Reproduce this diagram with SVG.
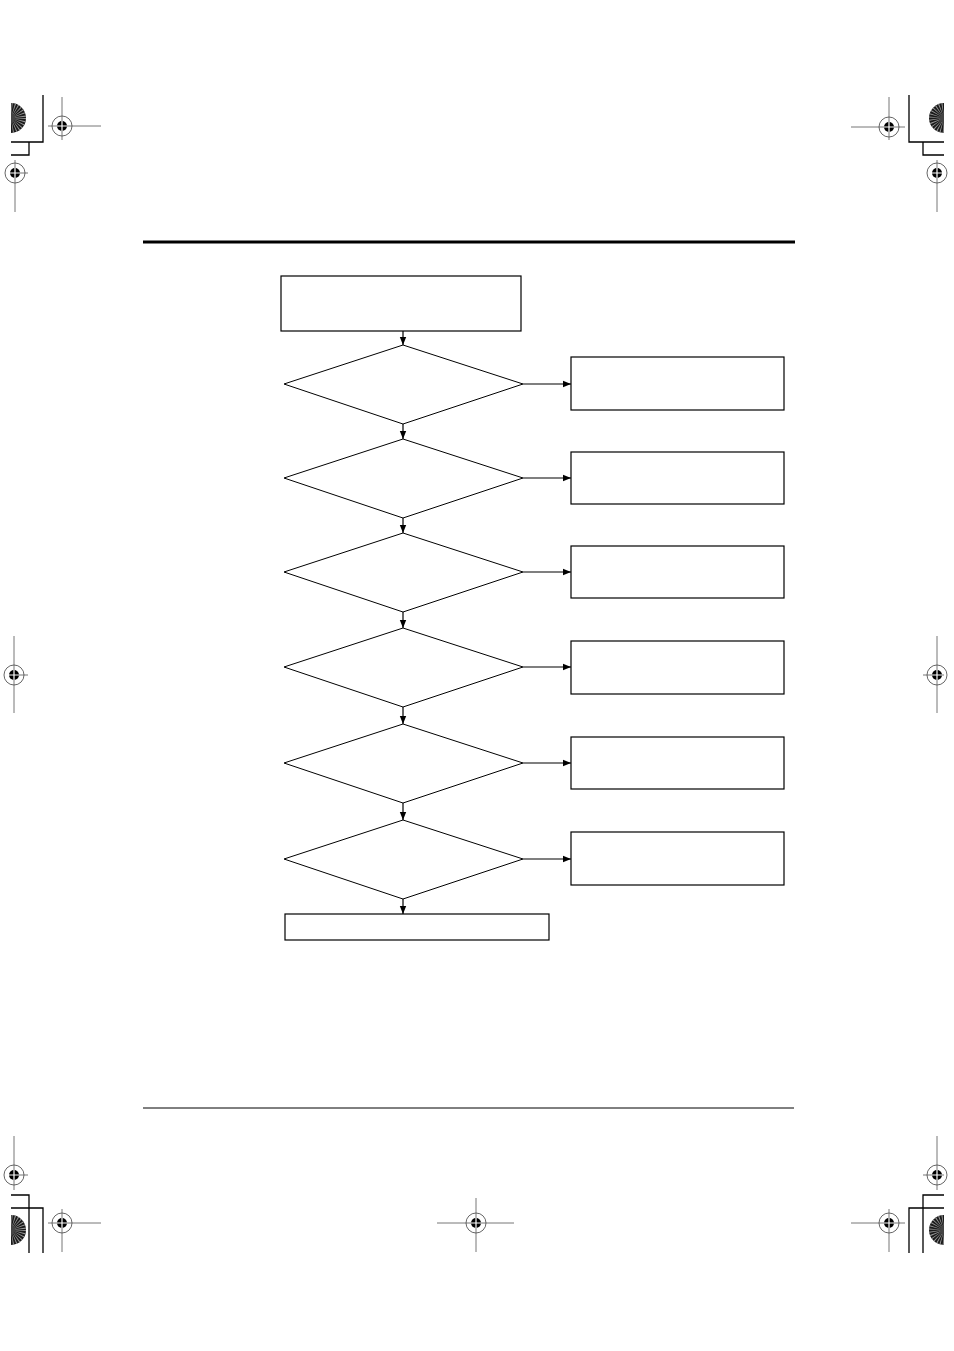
<svg xmlns="http://www.w3.org/2000/svg" width="954" height="1351" viewBox="0 0 954 1351">
<style>
.box{fill:#fff;stroke:#000;stroke-width:1.2}
.dia{fill:#fff;stroke:#000;stroke-width:1}
.con{stroke:#000;stroke-width:1.2;fill:none}
.crop{stroke:#000;stroke-width:1.3;fill:none}
.reg{stroke:#777;stroke-width:1;fill:none}
</style>
<defs>
<marker id="ah" viewBox="0 0 10 10" refX="10" refY="5" markerWidth="8" markerHeight="8" markerUnits="userSpaceOnUse" orient="auto">
<path d="M0,1 L10,5 L0,9 Z" fill="#000"/>
</marker>
<g id="tgt">
<circle r="10" fill="none" stroke="#555" stroke-width="0.9"/>
<circle r="5" fill="#000"/>
<path d="M-5,0 H5 M0,-5 V5" stroke="#fff" stroke-width="1.2"/>
</g>
<g id="sun">
<circle r="15" fill="#1a1a1a"/>
<circle r="8" fill="none" stroke="#999" stroke-width="14" stroke-dasharray="0.6 1.2"/>
<circle r="4" fill="#444"/>
</g>
<clipPath id="clipL"><rect x="11" y="0" width="30" height="1351"/></clipPath>
<clipPath id="clipR"><rect x="913" y="0" width="31" height="1351"/></clipPath>
</defs>

<!-- page furniture -->
<g id="page">
<line x1="143" y1="242" x2="795" y2="242" stroke="#000" stroke-width="3"/>
<line x1="143" y1="1108" x2="794" y2="1108" stroke="#000" stroke-width="1"/>
</g>

<!-- registration / crop marks -->
<g id="marks">
<g clip-path="url(#clipL)"><use href="#sun" x="11" y="118"/><use href="#sun" x="11" y="1230"/></g>
<g clip-path="url(#clipR)"><use href="#sun" x="944" y="118"/><use href="#sun" x="944" y="1230"/></g>
<path class="crop" d="M43,95 V142 H11 M29,142 V155 H11"/>
<path class="crop" d="M909,95 V142 H944 M923,142 V155 H944"/>
<path class="crop" d="M11,1195 H29 V1253 M11,1208 H43 V1253"/>
<path class="crop" d="M944,1195 H923 V1253 M944,1208 H909 V1253"/>
<path class="reg" d="M48,126 H101 M62,97 V140"/>
<use href="#tgt" x="62" y="126"/>
<path class="reg" d="M851,127 H905 M889,97 V140"/>
<use href="#tgt" x="889" y="127"/>
<path class="reg" d="M15,160 V212 M10,173 H28"/>
<use href="#tgt" x="15" y="173"/>
<path class="reg" d="M937,160 V212" stroke="#bbb"/>
<use href="#tgt" x="937" y="173"/>
<path class="reg" d="M14,636 V713 M14,675 H28"/>
<use href="#tgt" x="14" y="675"/>
<path class="reg" d="M937,636 V713 M923,675 H944"/>
<use href="#tgt" x="937" y="675"/>
<path class="reg" d="M14,1136 V1190 M14,1175 H28"/>
<use href="#tgt" x="14" y="1175"/>
<path class="reg" d="M937,1136 V1190 M923,1175 H944"/>
<use href="#tgt" x="937" y="1175"/>
<path class="reg" d="M48,1223 H101 M62,1209 V1252"/>
<use href="#tgt" x="62" y="1223"/>
<path class="reg" d="M851,1223 H905 M889,1209 V1252"/>
<use href="#tgt" x="889" y="1223"/>
<path class="reg" d="M437,1223 H514 M476,1198 V1252"/>
<use href="#tgt" x="476" y="1223"/>
</g>

<!-- connectors -->
<g id="connectors">
<line class="con" x1="403" y1="331" x2="403" y2="345" marker-end="url(#ah)"/>
<line class="con" x1="403" y1="424" x2="403" y2="439" marker-end="url(#ah)"/>
<line class="con" x1="403" y1="518" x2="403" y2="533" marker-end="url(#ah)"/>
<line class="con" x1="403" y1="612" x2="403" y2="628" marker-end="url(#ah)"/>
<line class="con" x1="403" y1="707" x2="403" y2="724" marker-end="url(#ah)"/>
<line class="con" x1="403" y1="803" x2="403" y2="820" marker-end="url(#ah)"/>
<line class="con" x1="403" y1="899" x2="403" y2="914" marker-end="url(#ah)"/>
<line class="con" x1="523" y1="384" x2="571" y2="384" marker-end="url(#ah)"/>
<line class="con" x1="523" y1="478" x2="571" y2="478" marker-end="url(#ah)"/>
<line class="con" x1="523" y1="572" x2="571" y2="572" marker-end="url(#ah)"/>
<line class="con" x1="523" y1="667" x2="571" y2="667" marker-end="url(#ah)"/>
<line class="con" x1="523" y1="763" x2="571" y2="763" marker-end="url(#ah)"/>
<line class="con" x1="523" y1="859" x2="571" y2="859" marker-end="url(#ah)"/>
</g>

<!-- nodes -->
<g id="start"><rect class="box" x="281" y="276" width="240" height="55"/></g>
<g id="d1"><polygon class="dia" points="403,345 523,384 403,424 284,384"/></g>
<g id="d2"><polygon class="dia" points="403,439 523,478 403,518 284,478"/></g>
<g id="d3"><polygon class="dia" points="403,533 523,572 403,612 284,572"/></g>
<g id="d4"><polygon class="dia" points="403,628 523,667 403,707 284,667"/></g>
<g id="d5"><polygon class="dia" points="403,724 523,763 403,803 284,763"/></g>
<g id="d6"><polygon class="dia" points="403,820 523,859 403,899 284,859"/></g>
<g id="end"><rect class="box" x="285" y="914" width="264" height="26"/></g>
<g id="r1"><rect class="box" x="571" y="357" width="213" height="53"/></g>
<g id="r2"><rect class="box" x="571" y="452" width="213" height="52"/></g>
<g id="r3"><rect class="box" x="571" y="546" width="213" height="52"/></g>
<g id="r4"><rect class="box" x="571" y="641" width="213" height="53"/></g>
<g id="r5"><rect class="box" x="571" y="737" width="213" height="52"/></g>
<g id="r6"><rect class="box" x="571" y="832" width="213" height="53"/></g>
</svg>
